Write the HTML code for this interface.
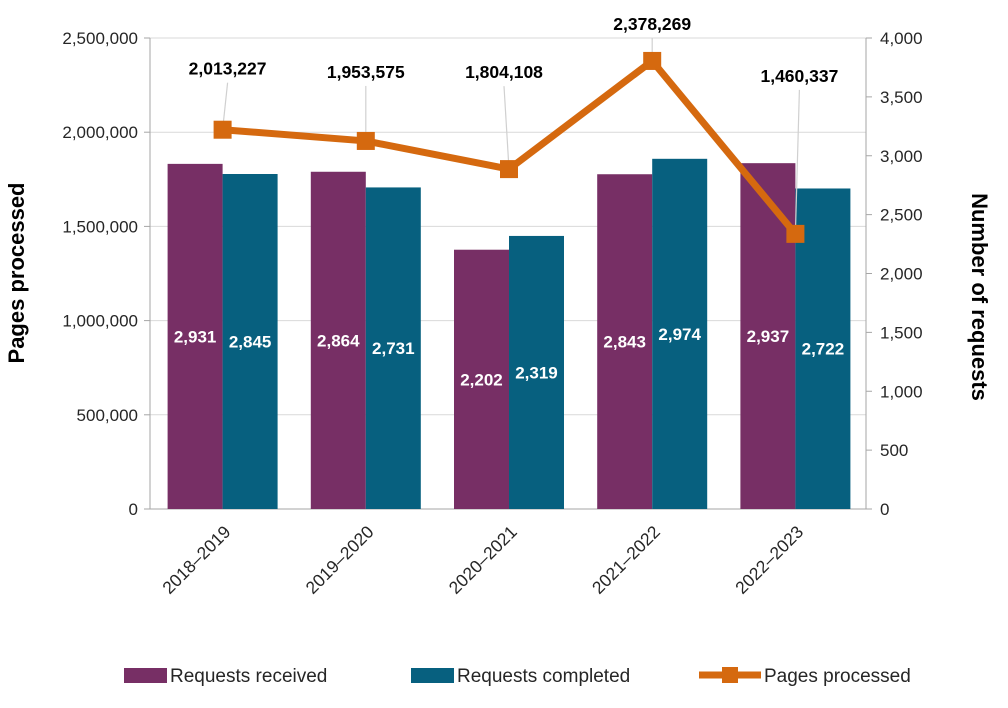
<!DOCTYPE html>
<html><head><meta charset="utf-8"><style>
body{margin:0;background:#fff;font-family:"Liberation Sans",sans-serif}
svg text{font-family:"Liberation Sans",sans-serif}
</style></head><body>
<svg id="chart" width="1008" height="703" viewBox="0 0 1008 703" xmlns="http://www.w3.org/2000/svg"></svg>
<script>
const categories=["2018–2019","2019–2020","2020–2021","2021–2022","2022–2023"];
const received=[2931,2864,2202,2843,2937];
const completed=[2845,2731,2319,2974,2722];
const pages=[2013227,1953575,1804108,2378269,1460337];
const leftTicks=[0,500000,1000000,1500000,2000000,2500000];
const rightTicks=[0,500,1000,1500,2000,2500,3000,3500,4000];
const labelOffsets=[[5,-55],[0,-63],[-5,-91],[0,-31],[4,-152]];

const NS="http://www.w3.org/2000/svg";
const svg=document.getElementById('chart');
const X0=150,X1=866,Y0=509,Y1=38;
const yL=v=>Y0-v/2500000*(Y0-Y1);
const yR=v=>Y0-v/4000*(Y0-Y1);
const gw=(X1-X0)/categories.length;
const cx=i=>X0+gw*(i+0.5);
const fmt=v=>v.toLocaleString('en-US');
function el(tag,attrs,parent){const e=document.createElementNS(NS,tag);for(const k in attrs)e.setAttribute(k,attrs[k]);(parent||svg).appendChild(e);return e;}

leftTicks.forEach(v=>{
  const y=yL(v);
  if(v>0){const g=el('line',{x1:X0,x2:X1,y1:y,y2:y,stroke:'#d9d9d9','stroke-width':1});
  
  }
  el('line',{x1:X0-6,x2:X0,y1:y,y2:y,stroke:'#a6a6a6'});
  const t=el('text',{x:X0-12,y:y+6,'text-anchor':'end','font-size':17,fill:'#262626'});
  t.textContent=fmt(v);
  
  
});
rightTicks.forEach(v=>{
  const y=yR(v);
  el('line',{x1:X1,x2:X1+6,y1:y,y2:y,stroke:'#a6a6a6'});
  const t=el('text',{x:X1+14,y:y+6,'text-anchor':'start','font-size':17,fill:'#262626'});
  t.textContent=fmt(v);
  
  
});
el('line',{x1:X0,x2:X0,y1:Y1,y2:Y0,stroke:'#a6a6a6'});
el('line',{x1:X1,x2:X1,y1:Y1,y2:Y0,stroke:'#a6a6a6'});
el('line',{x1:X0,x2:X1,y1:Y0,y2:Y0,stroke:'#a6a6a6'});

const bw=55;
categories.forEach((c,i)=>{
  [[received[i],'#772f65',-bw,'bar-received'],[completed[i],'#07607f',0,'bar-completed']].forEach(([v,col,off,nm])=>{
    const x=cx(i)+off+1,y=yR(v);
    const r=el('rect',{x:x,y:y,width:bw,height:Y0-y,fill:col});
    
    
    const t=el('text',{x:x+bw/2,y:(y+Y0)/2+6,'text-anchor':'middle','font-size':17,'font-weight':'bold',fill:'#fff'});
    t.textContent=fmt(v);
    
    
  });
  const lx=cx(i)+10,ly=Y0+24;
  const t=el('text',{x:lx,y:ly,'text-anchor':'end','font-size':17.5,fill:'#262626',transform:`rotate(-45 ${lx} ${ly})`});
  t.textContent=c;
  
  
});

const pts=pages.map((v,i)=>[cx(i)+1,yL(v)]);
const pl=el('polyline',{points:pts.map(p=>p.join(',')).join(' '),fill:'none',stroke:'#d5690f','stroke-width':7,'stroke-linejoin':'round'});


pts.forEach((p,i)=>{
  const lx=p[0]+labelOffsets[i][0],ly=p[1]+labelOffsets[i][1];
  el('line',{x1:p[0],y1:p[1],x2:lx,y2:ly+8,stroke:'#d0d0d0','stroke-width':1.2});
  const m=el('rect',{x:p[0]-9,y:p[1]-9,width:18,height:18,fill:'#d5690f'});
  
  
  const t=el('text',{x:lx,y:ly,'text-anchor':'middle','font-size':17.5,'font-weight':'bold',fill:'#000'});
  t.textContent=fmt(pages[i]);
  
  
});

let t=el('text',{x:0,y:0,'text-anchor':'middle','font-size':22,'font-weight':'bold',fill:'#000',transform:'translate(24 273) rotate(-90)'});
t.textContent='Pages processed';


t=el('text',{x:0,y:0,'text-anchor':'middle','font-size':22,'font-weight':'bold',fill:'#000',transform:'translate(972 297) rotate(90)'});
t.textContent='Number of requests';



[[124,'#772f65','Requests received','legend-received'],[411,'#07607f','Requests completed','legend-completed']].forEach(([x,c,txt,nm])=>{
  const g=el('g',{});
  
  
  el('rect',{x:x,y:668,width:43,height:15,fill:c},g);
  const tt=el('text',{x:x+46,y:682,'font-size':19,fill:'#262626'},g);tt.textContent=txt;
});
const lg=el('g',{});


el('line',{x1:699,x2:761,y1:675,y2:675,stroke:'#d5690f','stroke-width':7},lg);
el('rect',{x:722,y:667,width:16,height:16,fill:'#d5690f'},lg);
const lt=el('text',{x:764,y:682,'font-size':19,fill:'#262626'},lg);lt.textContent='Pages processed';
</script>
</body></html>
